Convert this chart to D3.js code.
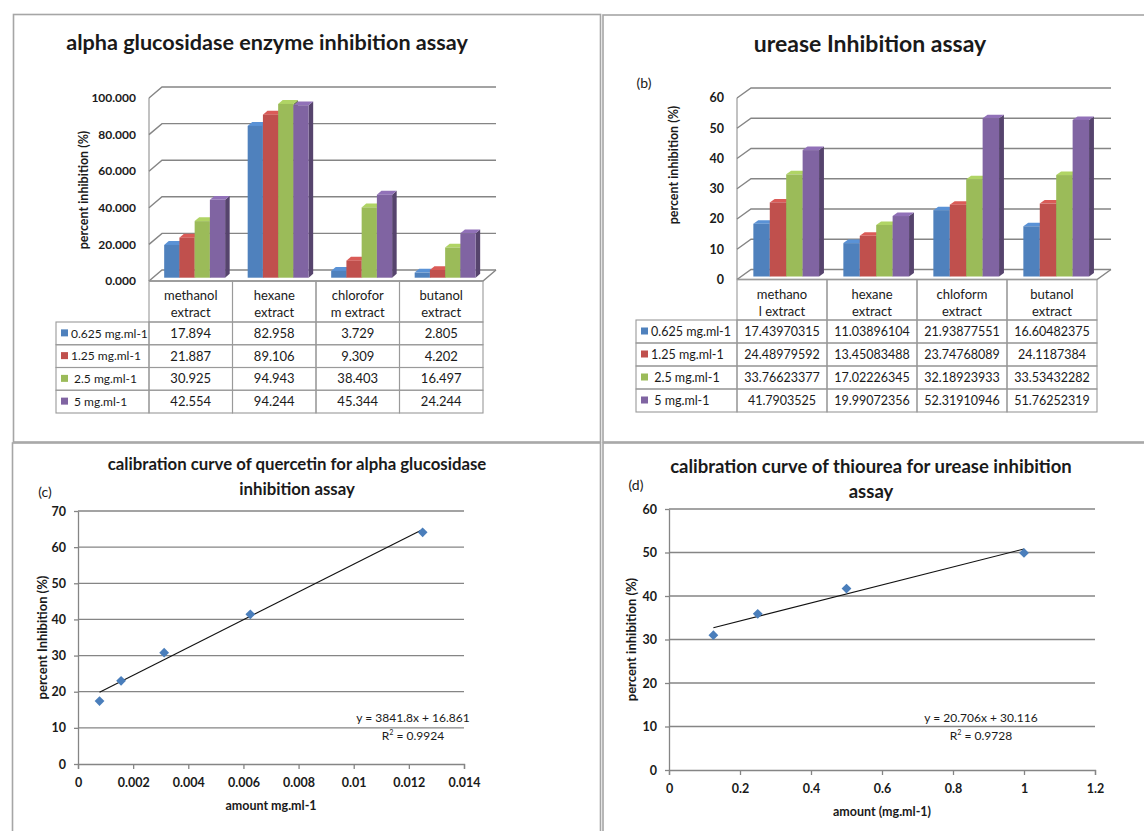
<!DOCTYPE html>
<html>
<head>
<meta charset="utf-8">
<script src="https://cdn.jsdelivr.net/npm/d3@7"></script>
<style>
  body { margin: 0; background: #fff; }
  svg { display: block; font-family: Lato, "Open Sans", sans-serif; }
</style>
</head>
<body>
<svg id="chart" width="1144" height="831"></svg>
<script>
// ---- data ----------------------------------------------------------------
const extractsA = [["methanol", "extract"], ["hexane", "extract"], ["chlorofor", "m extract"], ["butanol", "extract"]];
const extractsB = [["methano", "l extract"], ["hexane", "extract"], ["chloform", "extract"], ["butanol", "extract"]];
const concentrations = ["0.625 mg.ml-1", "1.25 mg.ml-1", " 2.5 mg.ml-1", " 5 mg.ml-1"];
const seriesColors = ["#4F81BD", "#C0504D", "#9BBB59", "#8064A2"];

// alpha glucosidase, % inhibition per extract
const gluc0625 = [17.894, 82.958, 3.729, 2.805];
const gluc125 = [21.887, 89.106, 9.309, 4.202];
const gluc25 = [30.925, 94.943, 38.403, 16.497];
const gluc5 = [42.554, 94.244, 45.344, 24.244];
const glucTicks = [0, 20, 40, 60, 80, 100];

// urease, % inhibition per extract
const ure0625 = [17.43970315, 11.03896104, 21.93877551, 16.60482375];
const ure125 = [24.48979592, 13.45083488, 23.74768089, 24.1187384];
const ure25 = [33.76623377, 17.02226345, 32.18923933, 33.53432282];
const ure5 = [41.7903525, 19.99072356, 52.31910946, 51.76252319];
const ureTicks = [0, 10, 20, 30, 40, 50, 60];

// quercetin calibration
const quercetinAmount = [0.00078125, 0.0015625, 0.003125, 0.00625, 0.0125];
const quercetinInhibition = [17.4, 23.0, 30.8, 41.4, 64.1];
const quercetinSlope = 3841.8, quercetinIntercept = 16.861, quercetinR2 = 0.9924;
const quercetinXTicks = [0, 0.002, 0.004, 0.006, 0.008, 0.01, 0.012, 0.014];
const quercetinYTicks = [0, 10, 20, 30, 40, 50, 60, 70];

// thiourea calibration
const thioureaAmount = [0.125, 0.25, 0.5, 1];
const thioureaInhibition = [31.0, 35.9, 41.7, 49.9];
const thioureaSlope = 20.706, thioureaIntercept = 30.116, thioureaR2 = 0.9728;
const thioureaXTicks = [0, 0.2, 0.4, 0.6, 0.8, 1, 1.2];
const thioureaYTicks = [0, 10, 20, 30, 40, 50, 60];

// ---- drawing -------------------------------------------------------------
const svg = d3.select("#chart");
const ink = "#1a1a1a";
const gridColor = "#858585";
const cellColor = "#9a9a9a";

// panel frames
const frames = [
  [13.5, 14.5, 587, 427.5],
  [603, 15, 560, 427],
  [12.5, 443, 588, 420],
  [603, 443, 560, 420]
];
svg.append("g").selectAll("rect").data(frames).join("rect")
  .attr("x", d => d[0]).attr("y", d => d[1])
  .attr("width", d => d[2]).attr("height", d => d[3])
  .attr("fill", "none").attr("stroke", "#a6a6a6").attr("stroke-width", 1.6);

function text(g, x, y, str, opt = {}) {
  return g.append("text")
    .attr("x", x).attr("y", y)
    .attr("text-anchor", opt.anchor || "middle")
    .attr("font-size", opt.size || 12)
    .attr("font-weight", opt.weight || "normal")
    .attr("fill", ink)
    .attr("transform", opt.rotate ? `rotate(-90,${x},${y})` : null)
    .text(str);
}

// 3D clustered column chart with a data table under the floor
function columns3d(cfg) {
  const g = svg.append("g");
  const [dx, dy] = cfg.depth;
  const x = d3.scaleBand().domain(d3.range(cfg.cats.length)).range([cfg.left, cfg.right]);
  const xs = d3.scaleBand().domain(d3.range(cfg.series.length))
    .range([0, x.bandwidth()]).paddingInner(0).paddingOuter(0.74);
  const y = d3.scaleLinear().domain([0, cfg.max]).range([cfg.zero, cfg.top]);

  // walls and gridlines
  g.append("line")
    .attr("x1", cfg.left).attr("x2", cfg.left)
    .attr("y1", y(0)).attr("y2", y(cfg.max))
    .attr("stroke", gridColor).attr("stroke-width", 1);
  g.selectAll(".grid").data(cfg.ticks).join("path")
    .attr("d", t => `M${cfg.left},${y(t)}L${cfg.left + dx},${y(t) + dy}L${cfg.right + dx},${y(t) + dy}`)
    .attr("fill", "none").attr("stroke", gridColor).attr("stroke-width", 1.4);
  g.append("path")
    .attr("d", `M${cfg.left},${y(0)}L${cfg.right},${y(0)}L${cfg.right + dx},${y(0) + dy}`)
    .attr("fill", "none").attr("stroke", gridColor).attr("stroke-width", 1.4);

  g.selectAll(".tick").data(cfg.ticks).join("text")
    .attr("x", cfg.left - 13).attr("y", t => y(t)).attr("dy", "0.35em")
    .attr("text-anchor", "end").attr("font-size", cfg.tickSize).attr("font-weight", "bold")
    .attr("fill", ink).text(cfg.tickFmt);

  // bars: front face at 30% of the floor depth, back face at 65%
  const f0 = 0.3, f1 = 0.65;
  const bdx = dx * (f1 - f0), bdy = dy * (f1 - f0);
  const bars = [];
  cfg.cats.forEach((c, i) => cfg.series.forEach((s, j) => bars.push({ i, j, v: s[i] })));
  const bg = g.selectAll(".bar").data(bars).join("g");
  bg.each(function (d) {
    const x0 = x(d.i) + xs(d.j) + dx * f0;
    const x1 = x0 + xs.bandwidth();
    const yb = y(0) + dy * f0;
    const yt = y(d.v) + dy * f0;
    const base = d3.color(seriesColors[d.j]);
    const sel = d3.select(this);
    sel.append("path")
      .attr("d", `M${x1},${yb}L${x1 + bdx},${yb + bdy}L${x1 + bdx},${yt + bdy}L${x1},${yt}Z`)
      .attr("fill", base.darker(1.1));
    sel.append("path")
      .attr("d", `M${x0},${yt}L${x0 + bdx},${yt + bdy}L${x1 + bdx},${yt + bdy}L${x1},${yt}Z`)
      .attr("fill", base.brighter(0.35));
    sel.append("rect")
      .attr("x", x0).attr("y", yt).attr("width", xs.bandwidth()).attr("height", yb - yt)
      .attr("fill", base);
  });

  // data table
  const t = g.append("g");
  const rowTop = cfg.zero + cfg.headH;
  const cell = (x0, y0, w, h) => t.append("rect").attr("x", x0).attr("y", y0)
    .attr("width", w).attr("height", h)
    .attr("fill", "none").attr("stroke", cellColor).attr("stroke-width", 1.1);
  cfg.cats.forEach((c, i) => {
    cell(x(i), cfg.zero, x.bandwidth(), cfg.headH);
    text(t, x(i) + x.bandwidth() / 2, cfg.zero + 19, c[0], { size: cfg.headSize });
    text(t, x(i) + x.bandwidth() / 2, cfg.zero + 36, c[1], { size: cfg.headSize });
  });
  cfg.series.forEach((s, j) => {
    const ry = rowTop + j * cfg.rowH;
    cell(cfg.tableLeft, ry, cfg.left - cfg.tableLeft, cfg.rowH);
    t.append("rect").attr("x", cfg.tableLeft + 5).attr("y", ry + cfg.rowH / 2 - 4)
      .attr("width", 7).attr("height", 7).attr("fill", seriesColors[j]);
    t.append("text").attr("x", cfg.tableLeft + 15).attr("y", ry + cfg.rowH / 2).attr("dy", "0.35em")
      .attr("font-size", cfg.legendSize).attr("fill", ink).attr("xml:space", "preserve")
      .text(concentrations[j]);
    cfg.cats.forEach((c, i) => {
      cell(x(i), ry, x.bandwidth(), cfg.rowH);
      t.append("text").attr("x", x(i) + x.bandwidth() / 2).attr("y", ry + cfg.rowH / 2)
        .attr("dy", "0.35em").attr("text-anchor", "middle")
        .attr("font-size", cfg.cellSize).attr("fill", ink).text(cfg.cellFmt(s[i]));
    });
  });
  return g;
}

// scatter chart with linear trendline
function calibration(cfg) {
  const g = svg.append("g");
  const x = d3.scaleLinear().domain(cfg.xDomain).range([cfg.left, cfg.right]);
  const y = d3.scaleLinear().domain(cfg.yDomain).range([cfg.bottom, cfg.top]);

  g.selectAll(".grid").data(cfg.yTicks.slice(1)).join("line")
    .attr("x1", cfg.left).attr("x2", cfg.right)
    .attr("y1", d => y(d)).attr("y2", d => y(d))
    .attr("stroke", gridColor).attr("stroke-width", 1.3);

  const styleAxis = a => {
    a.attr("font-family", null).attr("font-size", null);
    a.select(".domain").attr("stroke", gridColor).attr("stroke-width", 1.3);
    a.selectAll(".tick line").attr("stroke", gridColor).attr("stroke-width", 1.3);
    a.selectAll(".tick text").attr("fill", ink).attr("font-size", cfg.tickSize).attr("font-weight", "bold");
  };
  g.append("g").attr("transform", `translate(0,${cfg.bottom})`)
    .call(d3.axisBottom(x).tickValues(cfg.xTicks).tickFormat(String).tickSize(5).tickSizeOuter(5).tickPadding(9))
    .call(styleAxis);
  g.append("g").attr("transform", `translate(${cfg.left},0)`)
    .call(d3.axisLeft(y).tickValues(cfg.yTicks).tickFormat(String).tickSize(4).tickSizeOuter(0).tickPadding(8))
    .call(styleAxis);

  // trendline over the measured range, from the fitted equation
  const [xa, xb] = d3.extent(cfg.xs);
  const fit = v => cfg.slope * v + cfg.intercept;
  g.append("line")
    .attr("x1", x(xa)).attr("y1", y(fit(xa)))
    .attr("x2", x(xb)).attr("y2", y(fit(xb)))
    .attr("stroke", "#111").attr("stroke-width", 1.1);

  g.selectAll(".pt").data(cfg.xs.map((v, i) => [v, cfg.ys[i]])).join("path")
    .attr("d", d3.symbol(d3.symbolSquare, 48))
    .attr("transform", d => `translate(${x(d[0])},${y(d[1])}) rotate(45)`)
    .attr("fill", "#4A7EBB");

  const eq = g.append("text").attr("text-anchor", "middle").attr("font-size", cfg.eqSize).attr("fill", ink);
  eq.append("tspan").attr("x", cfg.eqX).attr("y", cfg.eqY)
    .text(`y = ${cfg.slope}x + ${cfg.intercept}`);
  const r2 = g.append("text").attr("text-anchor", "middle").attr("font-size", cfg.eqSize).attr("fill", ink)
    .attr("x", cfg.eqX).attr("y", cfg.eqY + 18);
  r2.append("tspan").text("R");
  r2.append("tspan").attr("font-size", cfg.eqSize * 0.6).attr("dy", -5).text("2");
  r2.append("tspan").attr("dy", 5).text(` = ${cfg.r2}`);

  text(g, (cfg.left + cfg.right) / 2, cfg.bottom + 46, cfg.xLabel, { size: 12.5, weight: "bold" });
  text(g, cfg.yLabelX, (cfg.top + cfg.bottom) / 2, cfg.yLabel, { size: 13, weight: "bold", rotate: true });
  return g;
}

// (a) alpha glucosidase
const gA = columns3d({
  cats: extractsA, series: [gluc0625, gluc125, gluc25, gluc5],
  left: 149, right: 483, zero: 281, top: 98, max: 100, depth: [13, -11],
  ticks: glucTicks, tickFmt: d3.format(".3f"), tickSize: 12,
  tableLeft: 56, headH: 41, rowH: 22.75, headSize: 13, cellSize: 13, legendSize: 12,
  cellFmt: d3.format(".3f")
});
text(gA, 267, 50, "alpha glucosidase enzyme inhibition assay", { size: 21.6, weight: "bold" });
text(gA, 88, 190, "percent inhibition (%)", { size: 12.5, weight: "bold", rotate: true });

// (b) urease
const gB = columns3d({
  cats: extractsB, series: [ure0625, ure125, ure25, ure5],
  left: 737, right: 1097, zero: 279.5, top: 98, max: 60, depth: [14, -10],
  ticks: ureTicks, tickFmt: String, tickSize: 12.5,
  tableLeft: 636, headH: 40.5, rowH: 23, headSize: 13, cellSize: 12.5, legendSize: 12.5,
  cellFmt: String
});
text(gB, 870, 52, "urease Inhibition assay", { size: 23, weight: "bold" });
text(gB, 644, 88, "(b)", { size: 14 });
text(gB, 678, 165, "percent inhibition (%)", { size: 12.5, weight: "bold", rotate: true });

// (c) quercetin calibration
const gC = calibration({
  xs: quercetinAmount, ys: quercetinInhibition,
  slope: quercetinSlope, intercept: quercetinIntercept, r2: quercetinR2,
  xDomain: [0, 0.014], yDomain: [0, 70], xTicks: quercetinXTicks, yTicks: quercetinYTicks,
  left: 78, right: 464, top: 511, bottom: 764, tickSize: 12.5, eqSize: 12,
  eqX: 413, eqY: 722, xLabel: "amount mg.ml-1", yLabel: "percent Inhibition (%)", yLabelX: 47
});
text(gC, 297, 470, "calibration curve of quercetin for alpha glucosidase", { size: 16.8, weight: "bold" });
text(gC, 297, 495, "inhibition assay", { size: 16.8, weight: "bold" });
text(gC, 45, 497, "(c)", { size: 14 });

// (d) thiourea calibration
const gD = calibration({
  xs: thioureaAmount, ys: thioureaInhibition,
  slope: thioureaSlope, intercept: thioureaIntercept, r2: thioureaR2,
  xDomain: [0, 1.2], yDomain: [0, 60], xTicks: thioureaXTicks, yTicks: thioureaYTicks,
  left: 669, right: 1095, top: 509, bottom: 770, tickSize: 12.5, eqSize: 12,
  eqX: 981, eqY: 722, xLabel: "amount (mg.ml-1)", yLabel: "percent inhibition (%)", yLabelX: 636
});
text(gD, 871, 473, "calibration curve of thiourea for urease inhibition", { size: 18.5, weight: "bold" });
text(gD, 871, 498, "assay", { size: 18.5, weight: "bold" });
text(gD, 636, 490, "(d)", { size: 14 });
</script>
</body>
</html>
